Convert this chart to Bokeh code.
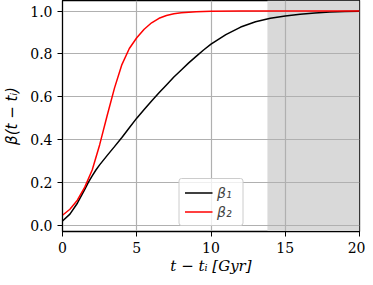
from bokeh.plotting import figure
from bokeh.models import Range1d, BoxAnnotation, Legend, LegendItem, FixedTicker, CustomJSTickFormatter
from bokeh.embed import file_html
from bokeh.resources import INLINE

# data
t1 = [0, 0.5, 1.0, 1.5, 1.75, 2.0, 2.25, 2.5, 3.0, 3.5, 4.0, 4.5, 5.0, 5.5, 6.0, 6.5, 7.0, 7.5,
      8.0, 8.5, 9.0, 9.5, 10, 11, 12, 13, 14, 15, 16, 17, 18, 19, 20]
beta1 = [0.020, 0.052, 0.103, 0.168, 0.201, 0.231, 0.258, 0.282, 0.325, 0.367, 0.410, 0.455,
         0.500, 0.540, 0.580, 0.618, 0.655, 0.692, 0.725, 0.758, 0.788, 0.818, 0.845, 0.890,
         0.925, 0.950, 0.966, 0.977, 0.985, 0.991, 0.995, 0.998, 0.999]
t2 = [0, 0.5, 1.0, 1.5, 2.0, 2.5, 3.0, 3.5, 4.0, 4.5, 5.0, 5.5, 6.0, 6.5, 7.0, 7.5,
      8.0, 9.0, 10, 12, 14, 16, 18, 20]
beta2 = [0.047, 0.075, 0.117, 0.178, 0.258, 0.375, 0.510, 0.640, 0.750, 0.825, 0.875,
         0.915, 0.945, 0.966, 0.979, 0.987, 0.992, 0.997, 0.999, 1.0, 1.0, 1.0, 1.0, 1.0]
t_universe = 13.8
x_ticks = [0, 5, 10, 15, 20]
y_ticks = [0.0, 0.2, 0.4, 0.6, 0.8, 1.0]

p = figure(width=365, height=277, output_backend="svg", toolbar_location=None,
           x_range=Range1d(0, 20), y_range=Range1d(-0.029, 1.049),
           min_border_left=0, min_border_right=6, min_border_top=0, min_border_bottom=0)

p.add_layout(BoxAnnotation(left=t_universe, fill_color="#d9d9d9", fill_alpha=1.0,
                           line_alpha=0, level="image"))

r1 = p.line(t1, beta1, line_color="black", line_width=1.5)
r2 = p.line(t2, beta2, line_color="red", line_width=1.5)

p.outline_line_color = "black"
p.outline_line_width = 1.3
p.outline_line_alpha = 1.0

for ax in (p.xaxis[0], p.yaxis[0]):
    ax.major_label_text_font = "DejaVu Serif"
    ax.major_label_text_font_size = "14px"
    ax.major_label_text_color = "black"
    ax.major_tick_out = 5
    ax.major_tick_in = 0
    ax.minor_tick_out = 0
    ax.minor_tick_in = 0
    ax.major_tick_line_color = "black"
    ax.axis_line_color = "black"
    ax.axis_label_text_color = "black"
    ax.axis_label_text_font_size = "15px"

p.xaxis.ticker = FixedTicker(ticks=x_ticks)
p.yaxis.ticker = FixedTicker(ticks=y_ticks)
p.yaxis.formatter = CustomJSTickFormatter(code="return tick.toFixed(1);")
p.xaxis.formatter = CustomJSTickFormatter(code="return tick.toFixed(0);")
p.xaxis.major_label_standoff = 5

p.xaxis.axis_label = "t − tᵢ [Gyr]"
p.xaxis.axis_label_text_font = "DejaVu Serif"
p.xaxis.axis_label_text_font_style = "italic"
p.xaxis.axis_label_standoff = 1
p.yaxis.axis_label = "β(t − tᵢ)"
p.yaxis.axis_label_text_font = "DejaVu Sans"
p.yaxis.axis_label_text_font_style = "italic"
p.yaxis.axis_label_standoff = 6

p.xgrid.ticker = FixedTicker(ticks=x_ticks)
p.ygrid.ticker = FixedTicker(ticks=y_ticks)
p.grid.grid_line_color = "#b0b0b0"
p.grid.grid_line_width = 1.2
p.grid.grid_line_alpha = 1.0

legend = Legend(items=[LegendItem(label="β₁", renderers=[r1]),
                       LegendItem(label="β₂", renderers=[r2])],
                location="bottom_center")
legend.label_text_font = "DejaVu Sans"
legend.label_text_font_style = "italic"
legend.label_text_font_size = "14px"
legend.border_line_color = "#cccccc"
legend.border_line_alpha = 1.0
legend.background_fill_alpha = 0.8
legend.glyph_width = 28
legend.glyph_height = 17
legend.label_height = 17
legend.label_standoff = 5
legend.spacing = 2
legend.padding = 5
legend.margin = 5
legend.border_radius = 3
p.add_layout(legend)

open("out.html", "w").write(file_html(p, INLINE))
